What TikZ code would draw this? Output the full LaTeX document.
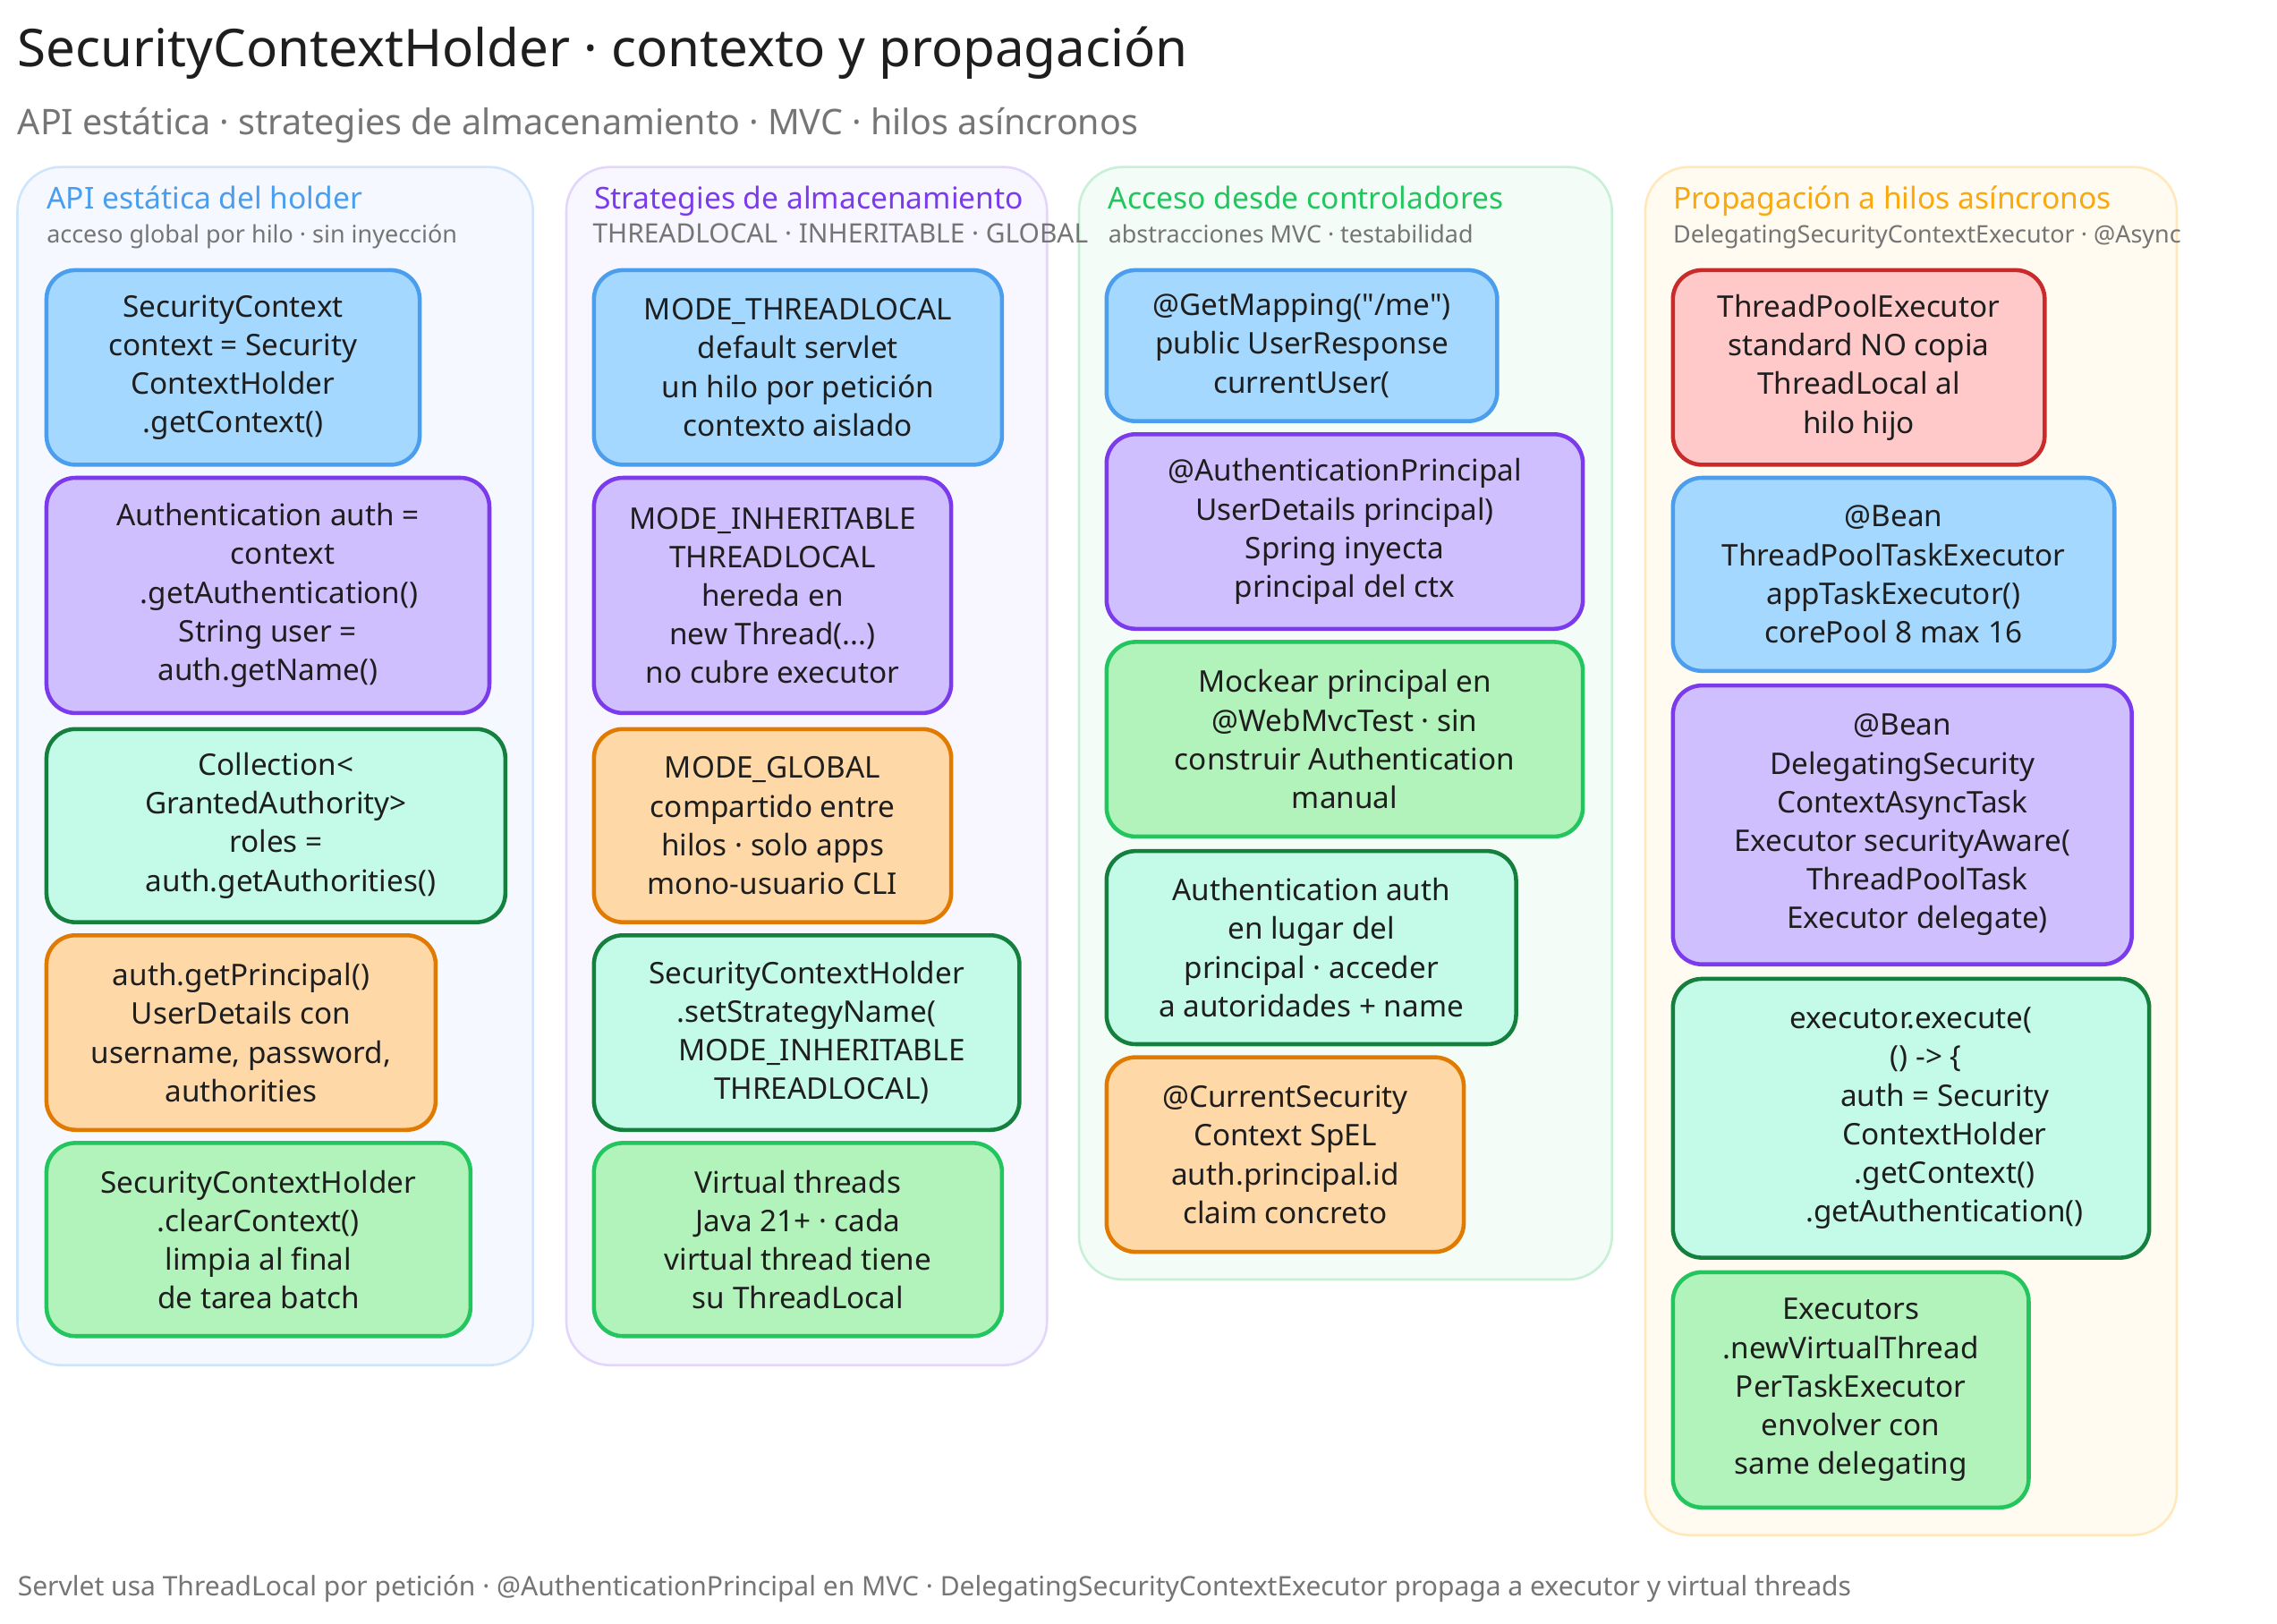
\documentclass[tikz,border=0pt]{standalone}
\usepackage{fontspec}
\setmainfont{Noto Sans}[Ligatures=TeXOff]
\definecolor{blueLine}{HTML}{4A9EED}
\definecolor{blueFill}{HTML}{A5D8FF}
\definecolor{bluePanel}{HTML}{F5F8FF}
\definecolor{blueEdge}{HTML}{CFE5FB}
\definecolor{purpleLine}{HTML}{7C3AED}
\definecolor{purpleFill}{HTML}{D0BFFF}
\definecolor{purplePanel}{HTML}{F8F6FF}
\definecolor{purpleEdge}{HTML}{E3D6FB}
\definecolor{greenLine}{HTML}{22C55E}
\definecolor{greenFill}{HTML}{B2F2BB}
\definecolor{greenPanel}{HTML}{F3FCF6}
\definecolor{greenEdge}{HTML}{C8F0D6}
\definecolor{tealLine}{HTML}{15803D}
\definecolor{tealFill}{HTML}{C3FAE8}
\definecolor{orangeLine}{HTML}{E07A00}
\definecolor{orangeFill}{HTML}{FFD8A8}
\definecolor{redLine}{HTML}{C92A2A}
\definecolor{redFill}{HTML}{FFC9C9}
\definecolor{amberLine}{HTML}{F9A80E}
\definecolor{amberPanel}{HTML}{FFFBF0}
\definecolor{amberEdge}{HTML}{FFE8BC}
\definecolor{inkText}{HTML}{1E1E1E}
\definecolor{greyText}{HTML}{757575}
\newcommand{\ind}[1][1]{\hspace*{#1em}}
\tikzset{
  card/.style={draw, line width=2.8pt, rounded corners=20pt, anchor=north west, inner sep=0pt, outer sep=0pt,
    align=center, text=inkText, font=\fontsize{20.5}{26.6}\selectfont},
  bluecard/.style={card, draw=blueLine, fill=blueFill},
  purplecard/.style={card, draw=purpleLine, fill=purpleFill},
  greencard/.style={card, draw=greenLine, fill=greenFill},
  tealcard/.style={card, draw=tealLine, fill=tealFill},
  orangecard/.style={card, draw=orangeLine, fill=orangeFill},
  redcard/.style={card, draw=redLine, fill=redFill},
  panel/.style={draw, line width=1.6pt, rounded corners=30pt, anchor=north west, inner sep=0pt, outer sep=0pt},
  head/.style={anchor=base west, inner sep=0pt, font=\fontsize{20.7}{26}\selectfont},
  subhead/.style={anchor=base west, inner sep=0pt, text=greyText, font=\fontsize{16.6}{20}\selectfont},
}
\begin{document}
\begin{tikzpicture}[x=1pt, y=-1pt]
\useasboundingbox (0,0) rectangle (1568,1118.2);

\node[anchor=base west, inner sep=0pt, text=inkText, font=\fontsize{35.9}{44}\selectfont] (title) at (12,46) {SecurityContextHolder · contexto y propagación};
\node[anchor=base west, inner sep=0pt, text=greyText, font=\fontsize{24.3}{30}\selectfont] (subtitle) at (12,93) {API estática · strategies de almacenamiento · MVC · hilos asíncronos};

\node[panel, draw=blueEdge, fill=bluePanel, minimum width=355pt, minimum height=825pt] (panelApi) at (12,115) {};
\node[panel, draw=purpleEdge, fill=purplePanel, minimum width=331pt, minimum height=825pt] (panelStrategy) at (390,115) {};
\node[panel, draw=greenEdge, fill=greenPanel, minimum width=367pt, minimum height=766pt] (panelMvc) at (743,115) {};
\node[panel, draw=amberEdge, fill=amberPanel, minimum width=366pt, minimum height=942pt] (panelAsync) at (1133,115) {};

\node[head, text=blueLine] (headApi) at (32,144) {API estática del holder};
\node[subhead] (subApi) at (32,167) {acceso global por hilo · sin inyección};
\node[head, text=purpleLine] (headStrategy) at (409,144) {Strategies de almacenamiento};
\node[subhead, font=\fontsize{18.4}{20}\selectfont] (subStrategy) at (408,167) {THREADLOCAL · INHERITABLE · GLOBAL};
\node[head, text=greenLine] (headMvc) at (763,144) {Acceso desde controladores};
\node[subhead] (subMvc) at (763,167) {abstracciones MVC · testabilidad};
\node[head, text=amberLine] (headAsync) at (1152,144) {Propagación a hilos asíncronos};
\node[subhead] (subAsync) at (1152,167) {DelegatingSecurityContextExecutor · @Async};

\node[bluecard, minimum width=257pt, minimum height=134pt] (apiContext) at (32,186) {SecurityContext\\context = Security\\ContextHolder\\.getContext()};
\node[purplecard, minimum width=305pt, minimum height=162pt] (apiAuth) at (32,329) {Authentication auth =\\\ind context\\\ind[.5] .getAuthentication()\\String user =\\auth.getName()};
\node[tealcard, minimum width=316pt, minimum height=133pt] (apiRoles) at (32,502) {Collection<\\GrantedAuthority>\\roles =\\\ind auth.getAuthorities()};
\node[orangecard, minimum width=268pt, minimum height=134pt] (apiPrincipal) at (32,644) {auth.getPrincipal()\\UserDetails con\\username, password,\\authorities};
\node[greencard, minimum width=292pt, minimum height=133pt] (apiClear) at (32,787) {SecurityContextHolder\\.clearContext()\\limpia al final\\de tarea batch};

\node[bluecard, minimum width=281pt, minimum height=134pt] (modeLocal) at (409,186) {MODE\_THREADLOCAL\\default servlet\\un hilo por petición\\contexto aislado};
\node[purplecard, minimum width=246pt, minimum height=162pt] (modeInherit) at (409,329) {MODE\_INHERITABLE\\THREADLOCAL\\hereda en\\new Thread(...)\\no cubre executor};
\node[orangecard, minimum width=246pt, minimum height=133pt] (modeGlobal) at (409,502) {MODE\_GLOBAL\\compartido entre\\hilos · solo apps\\mono-usuario CLI};
\node[tealcard, minimum width=293pt, minimum height=134pt] (modeSet) at (409,644) {SecurityContextHolder\\.setStrategyName(\\\ind MODE\_INHERITABLE\\\ind THREADLOCAL)};
\node[greencard, minimum width=281pt, minimum height=133pt] (modeVirtual) at (409,787) {Virtual threads\\Java 21+ · cada\\virtual thread tiene\\su ThreadLocal};

\node[bluecard, minimum width=269pt, minimum height=104pt] (mvcGet) at (762,186) {@GetMapping("/me")\\public UserResponse\\currentUser(};
\node[purplecard, minimum width=328pt, minimum height=134pt] (mvcPrincipal) at (762,299) {@AuthenticationPrincipal\\UserDetails principal)\\Spring inyecta\\principal del ctx};
\node[greencard, minimum width=328pt, minimum height=134pt] (mvcMock) at (762,442) {Mockear principal en\\@WebMvcTest · sin\\construir Authentication\\manual};
\node[tealcard, minimum width=282pt, minimum height=133pt] (mvcAuth) at (762,586) {Authentication auth\\en lugar del\\principal · acceder\\a autoridades + name};
\node[orangecard, minimum width=246pt, minimum height=134pt] (mvcCurrent) at (762,728) {@CurrentSecurity\\Context SpEL\\auth.principal.id\\claim concreto};

\node[redcard, minimum width=256pt, minimum height=134pt] (asyncPool) at (1152,186) {ThreadPoolExecutor\\standard NO copia\\ThreadLocal al\\hilo hijo};
\node[bluecard, minimum width=304pt, minimum height=133pt] (asyncBean) at (1152,329) {@Bean\\ThreadPoolTaskExecutor\\appTaskExecutor()\\corePool 8 max 16};
\node[purplecard, minimum width=316pt, minimum height=192pt] (asyncDelegate) at (1152,472) {@Bean\\DelegatingSecurity\\ContextAsyncTask\\Executor securityAware(\\\ind ThreadPoolTask\\\ind Executor delegate)};
\node[tealcard, minimum width=328pt, minimum height=192pt] (asyncExecute) at (1152,674) {executor.execute(\\\ind () -> \{\\\ind[2] auth = Security\\\ind[2] ContextHolder\\\ind[2] .getContext()\\\ind[2] .getAuthentication()};
\node[greencard, minimum width=245pt, minimum height=162pt] (asyncVirtual) at (1152,876) {Executors\\.newVirtualThread\\PerTaskExecutor\\envolver con\\same delegating};

\node[anchor=base west, inner sep=0pt, text=greyText, font=\fontsize{18.5}{24}\selectfont] (footer) at (12,1099) {Servlet usa ThreadLocal por petición · @AuthenticationPrincipal en MVC · DelegatingSecurityContextExecutor propaga a executor y virtual threads};

\end{tikzpicture}
\end{document}
